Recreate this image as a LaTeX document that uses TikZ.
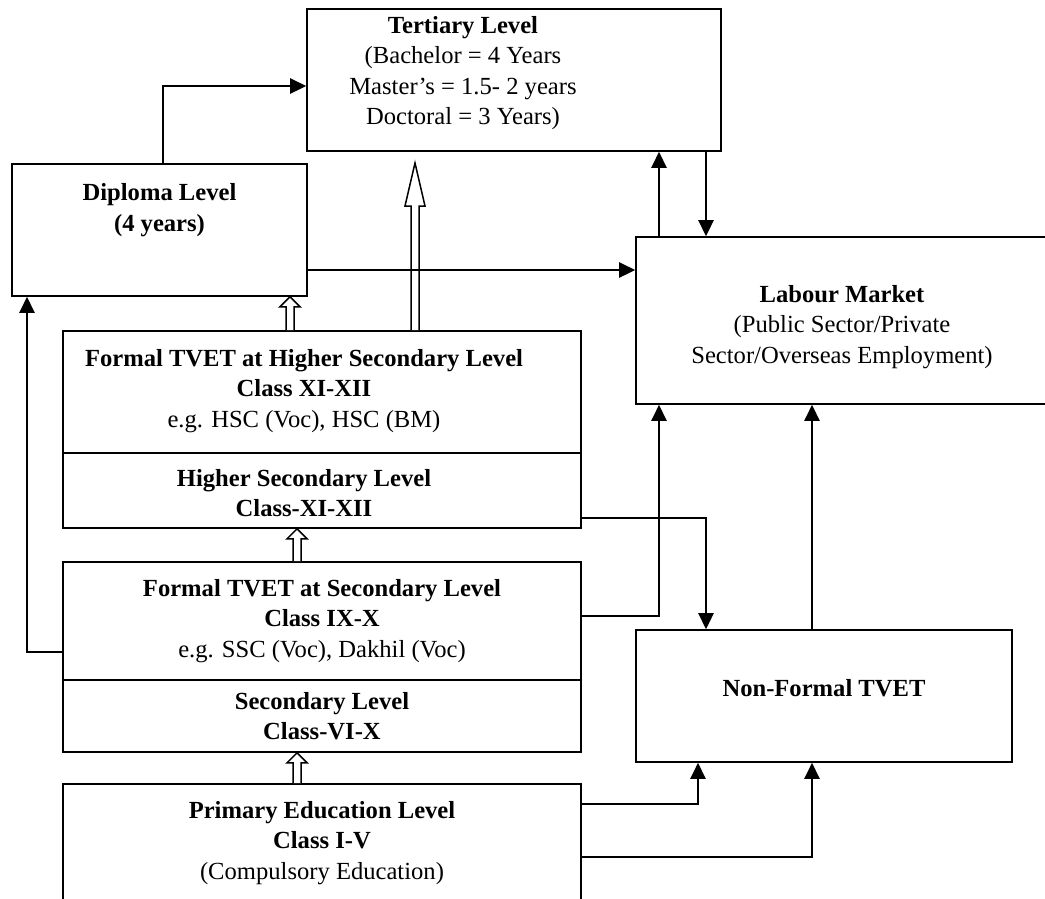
\documentclass[tikz,border=0pt]{standalone}
\usepackage{fontspec}
\setmainfont{Liberation Serif}
\usetikzlibrary{arrows.meta,calc}

\tikzset{
  box/.style={draw, line width=1.6pt, inner sep=0pt},
  txt/.style={align=center, inner sep=0pt, font=\fontsize{24.6}{30.5}\selectfont},
  arr/.style={line width=2.6pt, -{Triangle[length=16pt,width=15pt]}},
  hollow/.style={draw, line width=1.5pt, fill=white, line join=miter},
}

% hollow up-arrow: base, tip, half width of head, head length
\newcommand{\hollowarrow}[4]{%
  \draw[hollow] let \p1=(#1), \p2=(#2) in
    (\x1-4pt,\y1) -- (\x1-4pt,\y2-#4) -- (\x1-#3,\y2-#4) -- (\x2,\y2)
    -- (\x1+#3,\y2-#4) -- (\x1+4pt,\y2-#4) -- (\x1+4pt,\y1);
}

\begin{document}
\begin{tikzpicture}[x={(1pt,0)}, y={(0,-1pt)}]
    \useasboundingbox (0,0) rectangle (1045,898);

    % boxes
    \node[box, minimum width=414pt, minimum height=142pt] (tert) at (514,80) {};
    \node[box, minimum width=295pt, minimum height=132pt] (dip) at (159.5,230) {};
    \node[box, minimum width=412pt, minimum height=167pt] (lab) at (842,320.5) {};
    \node[box, minimum width=376pt, minimum height=132pt] (nft) at (824,696) {};
    \node[box, minimum width=518pt, minimum height=122pt] (hsf) at (322,392) {};
    \node[box, minimum width=518pt, minimum height=75pt] (hs) at (322,490.5) {};
    \node[box, minimum width=518pt, minimum height=118pt] (sf) at (322,621) {};
    \node[box, minimum width=518pt, minimum height=72pt] (sec) at (322,716) {};
    \node[box, minimum width=518pt, minimum height=136pt] (pri) at (322,852) {};

    % texts
    \node[txt] (tertT) at (463,73) {\textbf{Tertiary Level}\\(Bachelor = 4 Years\\Master’s = 1.5- 2 years\\Doctoral = 3 Years)};
    \node[txt] (dipT) at (159.5,210) {\textbf{Diploma Level}\\\textbf{(4 years)}};
    \node[txt] (labT) at (842,327) {\textbf{Labour Market}\\(Public Sector/Private\\Sector/Overseas Employment)};
    \node[txt] (nftT) at (824,688) {\textbf{Non-Formal TVET}};
    \node[txt] (hsfT) at (304,391) {\textbf{Formal TVET at Higher Secondary Level}\\\textbf{Class XI-XII}\\e.g. HSC (Voc), HSC (BM)};
    \node[txt] (hsT) at (304,493) {\textbf{Higher Secondary Level}\\\textbf{Class-XI-XII}};
    \node[txt] (sfT) at (322,621) {\textbf{Formal TVET at Secondary Level}\\\textbf{Class IX-X}\\e.g. SSC (Voc), Dakhil (Voc)};
    \node[txt] (secT) at (322,716) {\textbf{Secondary Level}\\\textbf{Class-VI-X}};
    \node[txt] (priT) at (322,843) {\textbf{Primary Education Level}\\\textbf{Class I-V}\\(Compulsory Education)};

    % bend points
    \coordinate (xd) at (163,86);
    \coordinate (yl) at (0,270);
    \coordinate (xu) at (659,0);
    \coordinate (xdn) at (706,0);
    \coordinate (th) at (415,163);
    \coordinate (xs) at (290,0);
    \coordinate (xm) at (297,0);
    \coordinate (c1) at (706,518);
    \coordinate (c2) at (659,616);
    \coordinate (c3) at (812,0);
    \coordinate (c4) at (698,804);
    \coordinate (c5) at (812,857);
    \coordinate (c6) at (27,652);

    % hollow arrows
    \hollowarrow{hsf.north -| th}{th}{10pt}{43pt}
    \hollowarrow{hsf.north -| xs}{dip.south -| xs}{10pt}{10pt}
    \hollowarrow{sf.north -| xm}{hs.south -| xm}{10pt}{10pt}
    \hollowarrow{pri.north -| xm}{sec.south -| xm}{10pt}{10pt}

    % solid arrows
    \draw[arr] (dip.north -| xd) |- (tert.west |- xd);
    \draw[arr] (dip.east |- yl) -- (lab.west |- yl);
    \draw[arr] (lab.north -| xu) -- (tert.south -| xu);
    \draw[arr] (tert.south -| xdn) -- (lab.north -| xdn);
    \draw[arr] (hs.east |- c1) -| (nft.north -| c1);
    \draw[arr] (sf.east |- c2) -| (lab.south -| c2);
    \draw[arr] (nft.north -| c3) -- (lab.south -| c3);
    \draw[arr] (pri.east |- c4) -| (nft.south -| c4);
    \draw[arr] (pri.east |- c5) -| (nft.south -| c5);
    \draw[arr] (sf.west |- c6) -| (dip.south -| c6);
\end{tikzpicture}
\end{document}
